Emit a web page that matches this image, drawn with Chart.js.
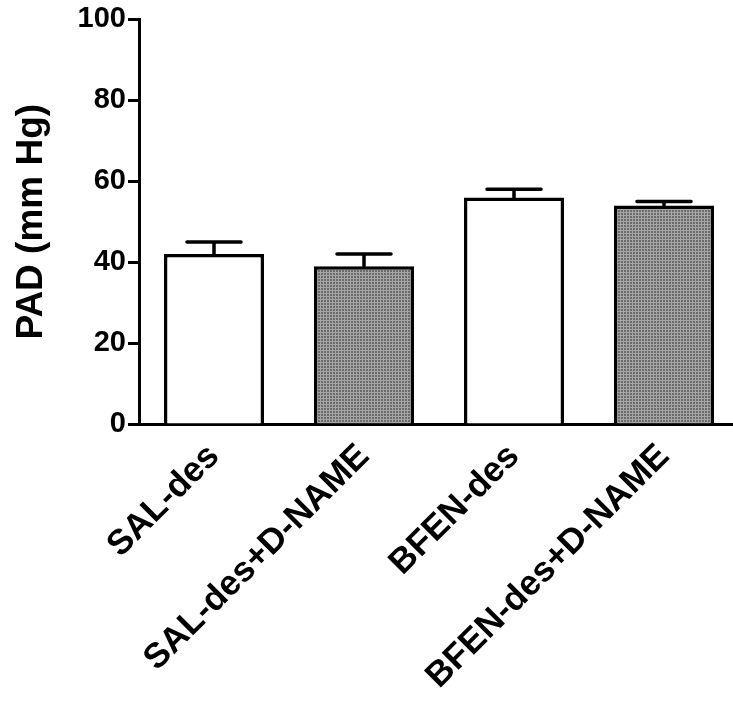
<!DOCTYPE html>
<html>
<head>
<meta charset="utf-8">
<script src="https://cdn.jsdelivr.net/npm/chart.js@4.4.1/dist/chart.umd.min.js"></script>
<style>
    html, body { margin: 0; padding: 0; background: #fff; overflow: hidden; }
    #wrap { width: 740px; height: 706px; }
</style>
</head>
<body>
<div id="wrap"><canvas id="padChart"></canvas></div>
<script>
var groups = ["SAL-des", "SAL-des+D-NAME", "BFEN-des", "BFEN-des+D-NAME"];
var padMean = [42, 39, 56, 54];
var padSem = [3, 3, 2, 1];
var yTicks = [0, 20, 40, 60, 80, 100];

// Dotted grey fill for the D-NAME groups.
function makeDots() {
    var c = document.createElement("canvas");
    c.width = 3;
    c.height = 3;
    var g = c.getContext("2d");
    g.fillStyle = "#a6a6a6";
    g.fillRect(0, 0, 3, 3);
    g.fillStyle = "#6c6c6c";
    g.fillRect(0, 0, 2, 2);
    return g.createPattern(c, "repeat");
}

const ctx = document.getElementById('padChart').getContext('2d');
const dots = makeDots();
var fills = groups.map(function (name) {
    return name.indexOf("D-NAME") >= 0 ? dots : "#ffffff";
});

// Mean + SEM caps on top of each bar.
const semBars = {
    id: 'semBars',
    afterDatasetsDraw(chart) {
        var yScale = chart.scales.y;
        var meta = chart.getDatasetMeta(0);
        var c = chart.ctx;
        c.save();
        c.strokeStyle = "#000";
        c.lineWidth = 3.5;
        c.lineCap = "round";
        meta.data.forEach(function (bar, i) {
            var top = yScale.getPixelForValue(padMean[i] + padSem[i]);
            var half = bar.width * 0.27;
            c.beginPath();
            c.moveTo(bar.x, bar.y);
            c.lineTo(bar.x, top);
            c.moveTo(bar.x - half, top);
            c.lineTo(bar.x + half, top);
            c.stroke();
        });
        c.restore();
    }
};

var bold = "'Liberation Sans', Arial, sans-serif";

const chartOptions = {
    responsive: true,
    maintainAspectRatio: false,
    animation: false,
    events: [],
    layout: {
        padding: { top: 19, right: 1, bottom: 0, left: 0 }
    },
    plugins: {
        legend: { display: false },
        tooltip: { enabled: false }
    },
    scales: {
        x: {
            grid: { display: false },
            border: { display: true, color: "#000", width: 3 },
            ticks: {
                color: "#000",
                autoSkip: false,
                minRotation: 45,
                maxRotation: 45,
                padding: 4,
                font: { family: bold, size: 35, weight: "bold" }
            },
            afterFit: function (scale) { scale.height = 282; }
        },
        y: {
            min: 0,
            max: 100,
            afterBuildTicks: function (scale) {
                scale.ticks = yTicks.map(function (v) { return { value: v }; });
            },
            grid: {
                drawOnChartArea: false,
                drawTicks: true,
                tickLength: 11,
                tickWidth: 3,
                color: "#000"
            },
            border: { display: true, color: "#000", width: 3 },
            ticks: {
                color: "#000",
                padding: 2,
                font: { family: bold, size: 29, weight: "bold" }
            },
            title: {
                display: true,
                text: "PAD (mm Hg)",
                color: "#000",
                padding: { top: 10, bottom: 4 },
                font: { family: bold, size: 37, weight: "bold" }
            },
            afterFit: function (scale) { scale.width = 139; }
        }
    }
};

const chartData = {
    labels: groups,
    datasets: [{
        data: padMean,
        backgroundColor: fills,
        borderColor: "#000",
        borderWidth: 3.5,
        borderSkipped: "bottom",
        categoryPercentage: 1,
        barPercentage: 0.667
    }]
};

const padChart = new Chart(ctx, {
    type: 'bar',
    data: chartData,
    options: chartOptions,
    plugins: [semBars]
});
</script>
</body>
</html>
